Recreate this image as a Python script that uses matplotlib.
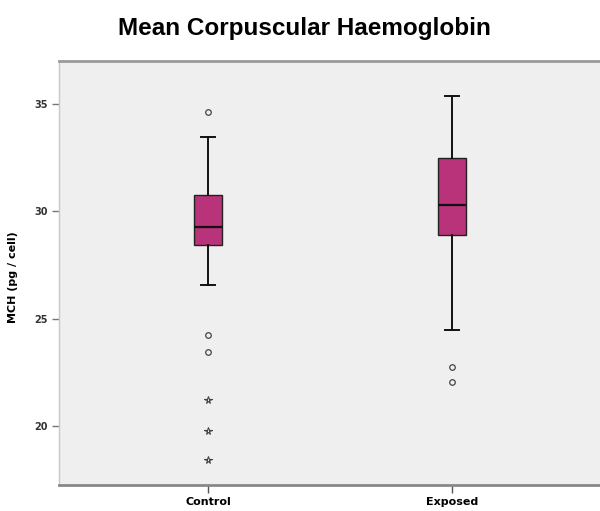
import matplotlib.pyplot as plt

# box summaries (pg / cell)
groups = ['Control', 'Exposed']
whislo = [26.55, 24.45]
q1 = [28.4, 28.9]
med = [29.25, 30.3]
q3 = [30.75, 32.45]
whishi = [33.45, 35.35]
# outliers (open circles) and extremes (asterisks)
circles = [[34.6, 24.25, 23.45], [22.75, 22.05]]
stars = [[21.2, 19.75, 18.4], []]

plt.rcParams['font.family'] = ['Liberation Sans', 'DejaVu Sans']

fig = plt.figure(figsize=(6.0, 5.11), dpi=100)
ax = fig.add_axes([0.0983, 0.0509, 0.9017, 0.8297])
ax.set_facecolor('#efefef')

stats = []
for i, g in enumerate(groups):
    stats.append(dict(label=g, whislo=whislo[i], q1=q1[i], med=med[i],
                      q3=q3[i], whishi=whishi[i], fliers=[]))

ax.bxp(stats, positions=[1, 2], widths=0.112, patch_artist=True,
       boxprops=dict(facecolor='#b8337a', edgecolor='#222222', linewidth=1.0),
       medianprops=dict(color='#111111', linewidth=1.6),
       whiskerprops=dict(color='#111111', linewidth=1.4),
       capprops=dict(color='#111111', linewidth=1.4),
       capwidths=0.058, showfliers=False)

for i in range(len(groups)):
    ax.plot([i + 1] * len(circles[i]), circles[i], 'o', ms=4.0, mfc='none',
            mec='#444444', mew=0.9)
    if stars[i]:
        ax.plot([i + 1] * len(stars[i]), stars[i], '*', ms=5.5, mfc='none',
                mec='#444444', mew=0.8)

ax.set_xlim(0.389, 2.607)
ax.set_ylim(17.26, 36.98)
ax.set_yticks([20, 25, 30, 35])
ax.set_yticklabels(['20', '25', '30', '35'], fontsize=7, fontweight='bold',
                   color='#333333', family='DejaVu Sans')
ax.set_xticks([1, 2])
ax.set_xticklabels(groups, fontsize=8, fontweight='bold', family='DejaVu Sans')
ax.tick_params(axis='y', length=5, width=1, color='#777777', pad=3)
ax.tick_params(axis='x', length=6, width=1, color='#555555', pad=3)

ax.spines['right'].set_visible(False)
ax.spines['top'].set_color('#9a9a9a')
ax.spines['top'].set_linewidth(2)
ax.spines['bottom'].set_color('#888888')
ax.spines['bottom'].set_linewidth(2)
ax.spines['left'].set_color('#c8c8c8')
ax.spines['left'].set_linewidth(1)

ax.set_ylabel('MCH (pg / cell)', fontsize=8, fontweight='bold',
              family='DejaVu Sans')
ax.yaxis.set_label_coords(-0.076, 0.49)

fig.text(0.507, 0.945, 'Mean Corpuscular Haemoglobin', ha='center',
         va='center', fontsize=17.5, fontweight='bold')

fig.savefig('out.png', dpi=100)
